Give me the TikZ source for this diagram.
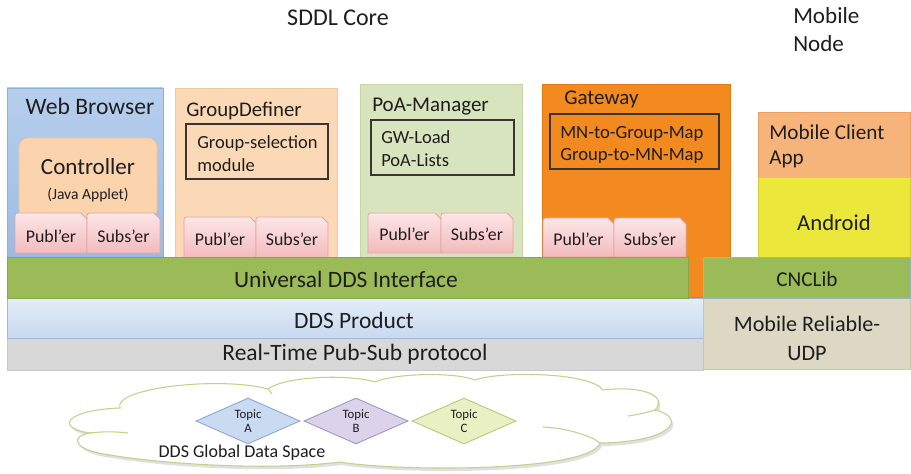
\documentclass[tikz,border=0pt]{standalone}
\usepackage{fontspec}
\setmainfont{Carlito}
\usetikzlibrary{shapes.geometric}
\definecolor{txt}{HTML}{1E1E1E}
\definecolor{wbT}{HTML}{B7CFEE}
\definecolor{wbB}{HTML}{9CBBE2}
\definecolor{wbD}{HTML}{8EB1DC}
\definecolor{ctrlF}{HTML}{FBD3AD}
\definecolor{ctrlD}{HTML}{F3C49A}
\definecolor{gdF}{HTML}{FCD9B6}
\definecolor{gdD}{HTML}{ECCAA2}
\definecolor{poaF}{HTML}{D8E4BD}
\definecolor{poaD}{HTML}{C6D7A3}
\definecolor{gwF}{HTML}{F28A20}
\definecolor{gwD}{HTML}{E07B14}
\definecolor{tabT}{HTML}{FDE6E7}
\definecolor{tabB}{HTML}{F3BABD}
\definecolor{tabD}{HTML}{E2A3A7}
\definecolor{grn}{HTML}{9BBB59}
\definecolor{grnD}{HTML}{86A74A}
\definecolor{ddsT}{HTML}{E4EDF8}
\definecolor{ddsB}{HTML}{C8D9EF}
\definecolor{ddsD}{HTML}{9FB9DD}
\definecolor{rtF}{HTML}{D8D8D8}
\definecolor{rtD}{HTML}{C9C9C9}
\definecolor{mrF}{HTML}{DCD8C3}
\definecolor{mrD}{HTML}{C9C4AA}
\definecolor{mcF}{HTML}{F7B47A}
\definecolor{mcD}{HTML}{E8A062}
\definecolor{andF}{HTML}{ECE83B}
\definecolor{inD}{HTML}{3A3530}
\definecolor{tAF}{HTML}{C9DAF1}
\definecolor{tAD}{HTML}{8EAADB}
\definecolor{tBF}{HTML}{DCD3EA}
\definecolor{tBD}{HTML}{A496C8}
\definecolor{tCF}{HTML}{E8F0C4}
\definecolor{tCD}{HTML}{B7CB7A}
\definecolor{cldD}{HTML}{C5CF8E}
\newcommand{\fsz}[2]{\fontsize{#1}{#2}\selectfont}
\newcommand{\pubtab}[4]{%
  \draw[tabst] (#1,#4) -- (#1,#2+6) .. controls (#1,#2) .. (#1+6,#2) -- (#3-6,#2) -- (#3,#2+6) -- (#3,#4) -- cycle;}
\begin{document}
\begin{tikzpicture}[x=0.75pt,y=-0.75pt,
  every node/.style={inner sep=0pt, text=txt},
  inbox/.style={draw=inD, line width=0.9pt},
  tabst/.style={top color=tabT, bottom color=tabB, draw=tabD, line width=0.6pt},
  tabtxt/.style={anchor=base, font=\fsz{13.4}{16}},
  topic/.style={diamond, aspect=2.2, minimum width=104*0.75pt, minimum height=46*0.75pt, line width=0.7pt, align=center, font=\fsz{9.6}{13}},
  bandtxt/.style={anchor=base, font=\fsz{17.6}{21}}]
\useasboundingbox (0,0) rectangle (911,474);

% headings
\node[anchor=base, font=\fsz{18}{22}] (sddl) at (338,26) {SDDL Core};
\node[anchor=base west, font=\fsz{17.3}{21}] (mob1) at (793,23.5) {Mobile};
\node[anchor=base west, font=\fsz{17.3}{21}] (mob2) at (793,51.5) {Node};

% Web Browser
\draw[top color=wbT, bottom color=wbB, draw=wbD, line width=0.6pt] (7,88) rectangle (163,257);
\node[anchor=base, font=\fsz{17.7}{21}] (wbt) at (90,114.5) {Web Browser};
\draw[fill=ctrlF, draw=ctrlD, line width=0.6pt, rounded corners=9*0.75pt] (19,138) rectangle (157,218);
\node[anchor=base, font=\fsz{17.3}{21}] (ctrl) at (88,175) {Controller};
\node[anchor=base, font=\fsz{11.7}{14}] (java) at (88,200) {(Java Applet)};
\pubtab{15}{213}{87}{253}
\pubtab{87}{213}{160}{253}
\node[tabtxt] (wbpub) at (51,243) {Publ'er};
\node[tabtxt] (wbsub) at (123.5,243) {Subs'er};

% GroupDefiner
\draw[fill=gdF, draw=gdD, line width=0.6pt] (175,88) rectangle (337,257);
\node[anchor=base west, font=\fsz{15.6}{19}] (gdt) at (186,116.7) {GroupDefiner};
\draw[inbox] (186,124) rectangle (328,179);
\node[anchor=base west, font=\fsz{13.9}{17}] (gds1) at (197,149) {Group-selection};
\node[anchor=base west, font=\fsz{13.9}{17}] (gds2) at (197,172) {module};
\pubtab{184}{217}{256}{258}
\pubtab{256}{217}{328}{258}
\node[tabtxt] (gdpub) at (220,246) {Publ'er};
\node[tabtxt] (gdsub) at (292,246) {Subs'er};

% PoA-Manager
\draw[fill=poaF, draw=poaD, line width=0.6pt] (360,84) rectangle (522,257);
\node[anchor=base west, font=\fsz{15.75}{19}] (poat) at (372,111.7) {PoA-Manager};
\draw[inbox] (371,120) rectangle (514,175);
\node[anchor=base west, font=\fsz{13.9}{17}] (poa1) at (381,144) {GW-Load};
\node[anchor=base west, font=\fsz{13.9}{17}] (poa2) at (381,167) {PoA-Lists};
\pubtab{368}{213}{441}{253}
\pubtab{441}{213}{513}{253}
\node[tabtxt] (poapub) at (404.5,241) {Publ'er};
\node[tabtxt] (poasub) at (477,241) {Subs'er};

% Gateway
\draw[fill=gwF, draw=gwD, line width=0.6pt] (542,84) rectangle (730,297);
\node[anchor=base west, font=\fsz{15.75}{19}] (gwt) at (564,104.7) {Gateway};
\draw[inbox] (550,114) rectangle (719,169);
\node[anchor=base west, font=\fsz{14}{17}] (gw1) at (560,139) {MN-to-Group-Map};
\node[anchor=base west, font=\fsz{14}{17}] (gw2) at (560,161) {Group-to-MN-Map};
\pubtab{543}{218}{614}{257}
\pubtab{614}{218}{686}{257}
\node[tabtxt] (gwpub) at (578.5,246) {Publ'er};
\node[tabtxt] (gwsub) at (650,246) {Subs'er};

% Mobile client
\draw[fill=mcF, draw=mcD, line width=0.6pt] (758,112) rectangle (910,177);
\node[anchor=base west, font=\fsz{15.9}{19}] (mc1) at (769,139.7) {Mobile Client};
\node[anchor=base west, font=\fsz{15.9}{19}] (mc2) at (769,164.7) {App};
\draw[fill=andF, draw=andF!90!black, line width=0.4pt] (758,177) rectangle (910,257);
\node[anchor=base, font=\fsz{17}{20}] (andr) at (834,231) {Android};

% layer bands
\draw[fill=rtF, draw=rtD, line width=0.6pt] (7,337) rectangle (703,370);
\node[bandtxt] (rtp) at (355,360.5) {Real-Time Pub-Sub protocol};
\draw[top color=ddsT, bottom color=ddsB, draw=ddsD, line width=0.7pt] (7,298) rectangle (703,338);
\node[bandtxt] (ddsp) at (354,328.5) {DDS Product};
\draw[fill=grn, draw=grnD, line width=0.5pt] (7,257) rectangle (688,298);
\node[bandtxt] (udi) at (346,287.5) {Universal DDS Interface};
\draw[fill=mrF, draw=mrD, line width=0.6pt] (703,298) rectangle (910,369);
\node[anchor=base, font=\fsz{16.6}{20}] (mr1) at (807,331) {Mobile Reliable-};
\node[anchor=base, font=\fsz{16.6}{20}] (mr2) at (807,360) {UDP};
\draw[fill=grn, draw=ddsD!80!grnD, line width=0.6pt] (703,257) rectangle (910,298);
\node[anchor=base, font=\fsz{15.9}{19}] (cnc) at (807,286.7) {CNCLib};

% cloud
\def\cloudpath{(90,433) .. controls (55,428) and (65,410) .. (120,408)
  .. controls (112,388) and (220,376) .. (268,389)
  .. controls (285,376) and (350,374) .. (375,382)
  .. controls (395,373) and (455,372) .. (475,380)
  .. controls (500,371) and (590,372) .. (603,390)
  .. controls (645,385) and (668,397) .. (655,410)
  .. controls (688,418) and (672,442) .. (600,443)
  .. controls (590,472) and (400,472) .. (340,462)
  .. controls (260,472) and (150,462) .. (110,455)
  .. controls (72,450) and (70,436) .. (90,433) -- cycle}
\fill[black!12, shift={(2,3)}] \cloudpath;
\draw[fill=white, draw=cldD, line width=0.8pt] \cloudpath;
\draw[cldD, line width=0.8pt] (90,433) .. controls (105,431) and (120,432) .. (128,433);
\draw[cldD, line width=0.8pt] (655,410) .. controls (645,413) and (636,415) .. (628,416);
\draw[cldD, line width=0.8pt] (543,427) .. controls (565,428) and (590,435) .. (600,443);
\draw[cldD, line width=0.8pt] (268,389) .. controls (270,392) .. (272,394);

\node[topic, fill=tAF, draw=tAD] (ta) at (248,421) {Topic\\[-2pt]A};
\node[topic, fill=tBF, draw=tBD] (tb) at (356,421) {Topic\\[-2pt]B};
\node[topic, fill=tCF, draw=tCD] (tc) at (464,421) {Topic\\[-2pt]C};
\node[anchor=base, font=\fsz{13.5}{16}] (gds) at (242,457.8) {DDS Global Data Space};
\end{tikzpicture}
\end{document}
